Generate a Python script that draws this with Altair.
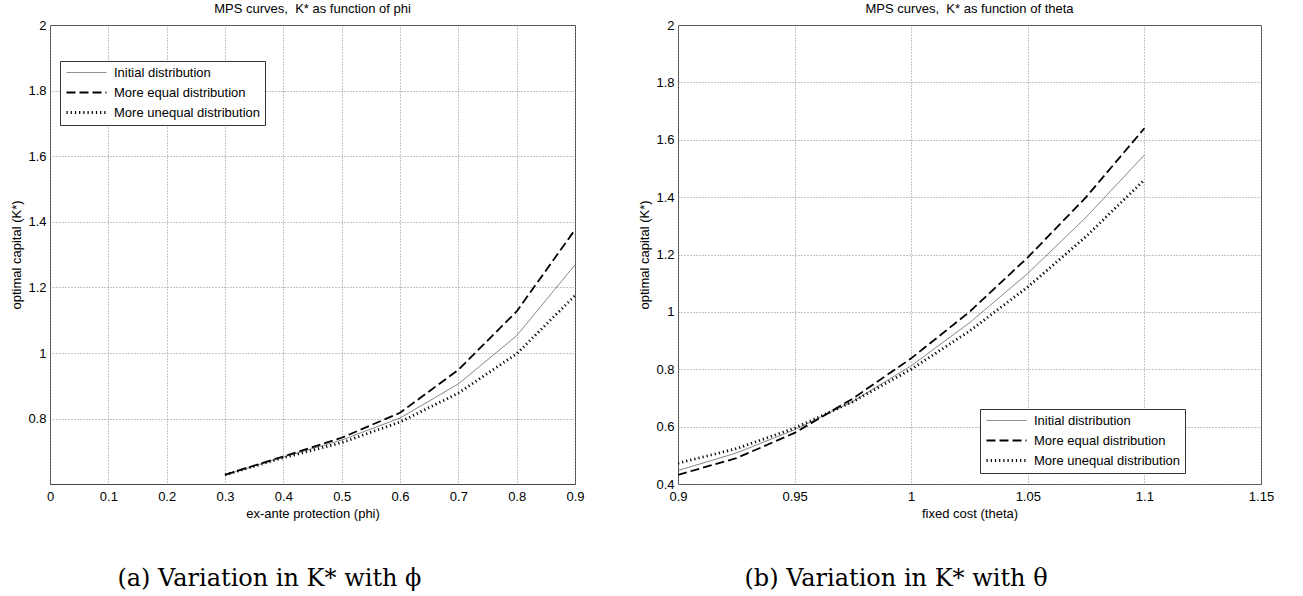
import altair as alt
import pandas as pd

series = ["Initial distribution", "More equal distribution", "More unequal distribution"]

# Panel (a): K* as a function of phi
phi = [0.3, 0.4, 0.5, 0.6, 0.7, 0.8, 0.9]
phi_initial = [0.629, 0.683, 0.735, 0.802, 0.906, 1.053, 1.269]
phi_equal = [0.629, 0.685, 0.742, 0.818, 0.949, 1.127, 1.376]
phi_unequal = [0.629, 0.681, 0.727, 0.790, 0.878, 0.998, 1.175]

# Panel (b): K* as a function of theta
theta = [0.9, 0.925, 0.95, 0.975, 1.0, 1.025, 1.05, 1.075, 1.1]
theta_initial = [0.447, 0.508, 0.589, 0.688, 0.812, 0.962, 1.134, 1.33, 1.547]
theta_equal = [0.432, 0.49, 0.578, 0.698, 0.838, 1.0, 1.19, 1.40, 1.64]
theta_unequal = [0.473, 0.523, 0.595, 0.687, 0.80, 0.933, 1.087, 1.263, 1.46]

phi_ticks = [0, 0.1, 0.2, 0.3, 0.4, 0.5, 0.6, 0.7, 0.8, 0.9]
phi_yticks = [0.8, 1, 1.2, 1.4, 1.6, 1.8, 2]
theta_ticks = [0.9, 0.95, 1, 1.05, 1.1, 1.15]
theta_yticks = [0.4, 0.6, 0.8, 1, 1.2, 1.4, 1.6, 1.8, 2]


def long_df(xs, ys_list):
    rows = []
    for name, ys in zip(series, ys_list):
        for x, y in zip(xs, ys):
            rows.append({"x": x, "y": y, "series": name})
    return pd.DataFrame(rows)


df_phi = long_df(phi, [phi_initial, phi_equal, phi_unequal])
df_theta = long_df(theta, [theta_initial, theta_equal, theta_unequal])

SANS = "Liberation Sans"
FS = 13


def legend(lx, ly):
    return alt.Legend(
        title=None, orient="none", legendX=lx, legendY=ly,
        symbolType="M-1,0L7,0", symbolSize=100, symbolStrokeColor="black",
        labelFont=SANS, labelFontSize=FS, labelColor="black",
        strokeColor="#333333", fillColor="white", padding=5,
        rowPadding=6, labelOffset=36,
    )


def axis(values, title, lpad):
    return alt.Axis(
        values=values, title=title, format="~g", grid=True,
        gridDash=[1, 2], gridColor="#8a8a8a", gridWidth=1,
        ticks=False, domain=False, labelFlush=False,
        labelFont=SANS, labelFontSize=FS, labelColor="black",
        titleFont=SANS, titleFontSize=FS, titleFontWeight="normal", titleColor="black",
        labelPadding=lpad, titlePadding=4,
    )


def panel(df, xdom, xticks, xtitle, ydom, yticks, title, w, lx, ly):
    lg = legend(lx, ly)
    return alt.Chart(df).mark_line(clip=True).encode(
        x=alt.X("x:Q", scale=alt.Scale(domain=xdom, nice=False, zero=False),
                axis=axis(xticks, xtitle, 6)),
        y=alt.Y("y:Q", scale=alt.Scale(domain=ydom, nice=False, zero=False),
                axis=axis(yticks, "optimal capital (K*)", 4)),
        color=alt.Color("series:N", scale=alt.Scale(domain=series, range=["#555555", "#000000", "#000000"]), legend=lg),
        strokeDash=alt.StrokeDash("series:N", scale=alt.Scale(domain=series, range=[[1, 0], [9, 4], [1.2, 3]]), legend=lg),
        strokeWidth=alt.StrokeWidth("series:N", scale=alt.Scale(domain=series, range=[0.8, 2.8, 1.6]), legend=lg),
    ).properties(
        width=w, height=459,
        title=alt.TitleParams(title, font=SANS, fontSize=FS, fontWeight="normal", color="black", offset=3),
    )


left = panel(df_phi, [0, 0.9], phi_ticks, "ex-ante protection (phi)", [0.601, 2], phi_yticks,
             "MPS curves,\u00a0 K* as function of phi", 525, 10, 36)
right = panel(df_theta, [0.9, 1.15], theta_ticks, "fixed cost (theta)", [0.4, 2], theta_yticks,
              "MPS curves,\u00a0 K* as function of theta", 583, 302, 384)

cap_style = dict(orient="bottom", anchor="start", font="DejaVu Serif", fontSize=24,
                 fontWeight="normal", color="black", offset=46)

left_w = alt.vconcat(left).properties(title=alt.TitleParams("(a) Variation in K* with ϕ", dx=107, **cap_style))
right_w = alt.vconcat(right).properties(title=alt.TitleParams("(b) Variation in K* with θ", dx=106, **cap_style))

chart = alt.hconcat(left_w, right_w, spacing=53).resolve_legend(
    color="independent", strokeDash="independent", strokeWidth="independent"
).resolve_scale(
    color="independent", strokeDash="independent", strokeWidth="independent"
).properties(
    padding={"left": 10, "top": 2, "right": 0, "bottom": 0}
).configure_view(stroke="#444444", strokeWidth=1)

chart.save("out.html", embed_options={"renderer": "svg", "actions": False})
